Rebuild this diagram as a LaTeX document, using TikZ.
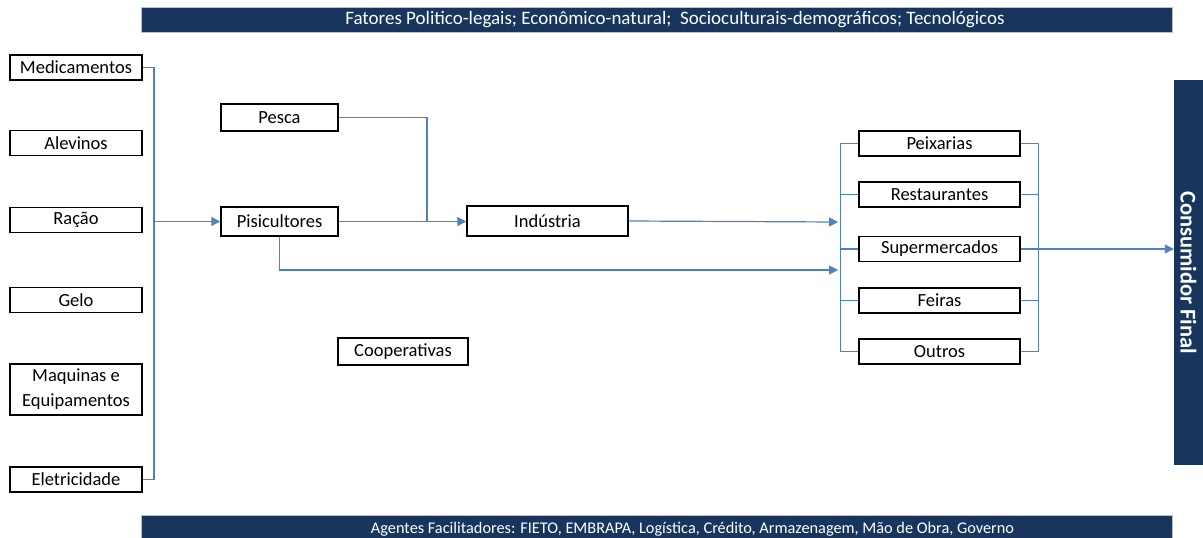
\documentclass[tikz,border=0pt]{standalone}
\usepackage{fontspec}
\setmainfont{Carlito}
\usetikzlibrary{arrows.meta}
\definecolor{navy}{RGB}{24,54,93}
\definecolor{linkblue}{RGB}{79,129,189}
\begin{document}
\begin{tikzpicture}[x=1pt,y=-1pt,font=\fontsize{18.5}{25}\selectfont,
    box/.style={draw,line width=1.5pt,minimum height=25pt,inner sep=0pt,align=center},
    link/.style={linkblue,line width=1.2pt},
    arr/.style={link,-{Triangle[length=9pt,width=9pt]}},
    bartext/.style={text=white,inner sep=0pt}]
    \useasboundingbox (0,0) rectangle (1203,538);
    % faixas de fundo
    \fill[navy,draw=gray!50,line width=0.6pt] (141,7) rectangle (1172,32);
    \node[bartext,font=\fontsize{19}{22}\selectfont] (fatores) at (675,20) {Fatores Politico-legais; Econômico-natural;\ \ Socioculturais-demográficos; Tecnológicos};
    \fill[navy,draw=gray!50,line width=0.6pt] (141,515) rectangle (1172,545);
    \node[bartext,font=\fontsize{16.3}{19}\selectfont] (agentes) at (692.5,529) {Agentes Facilitadores: FIETO, EMBRAPA, Logística, Crédito, Armazenagem, Mão de Obra, Governo};
    \node[fill=navy,text=white,rotate=-90,minimum width=385pt,minimum height=29pt,inner sep=0pt,
        font=\fontsize{22.5}{26}\selectfont\bfseries] (consumidor) at (1188.5,272.5) {Consumidor Final};
    % insumos
    \foreach \nome/\y/\h/\txt in {med/67.5/25/Medicamentos, alev/143/25/Alevinos, racao/220/25/Ração,
        gelo/300/25/Gelo, maq/389.5/51/{Maquinas e\\Equipamentos}, elet/479.5/25/Eletricidade}{
        \node[box,minimum width=132pt,minimum height=\h pt] (\nome) at (76,\y) {\txt};
    }
    \coordinate (chave) at (154,221.5);
    \draw[link] (med.east) -| (chave) |- (elet.east);
    % producao
    \node[box,minimum width=117pt,minimum height=27pt] (pesca) at (279.5,117.5) {Pesca};
    \node[box,minimum width=117pt,minimum height=29pt] (pisc) at (279.5,221.5) {Pisicultores};
    \node[box,minimum width=161pt,minimum height=30pt] (ind) at (547.5,221) {Indústria};
    \node[box,minimum width=130pt,minimum height=27pt] (coop) at (403,351.5) {Cooperativas};
    \draw[arr] (chave) -- (chave -| pisc.west);
    \coordinate (juncao) at (427,221.5);
    \draw[link] (pesca.east) -| (juncao);
    \draw[arr] (pisc.east) -- (pisc.east -| ind.west);
    % varejo
    \foreach \nome/\y/\txt in {peix/143.5/Peixarias, rest/194.5/Restaurantes, super/249/Supermercados,
        feir/300.5/Feiras, outr/351.5/Outros}{
        \node[box,minimum width=161pt] (\nome) at (939.5,\y) {\txt};
    }
    \coordinate (va) at (838,222);
    \coordinate (vb) at (838,270);
    \draw[arr] (ind.east) -- (va);
    \draw[arr] (pisc.south) |- (vb);
    \draw[link] (peix.west) -- ++(-18,0) |- (outr.west);
    \draw[link] (peix.east) -- ++(18,0) |- (outr.east);
    \foreach \n in {rest,super,feir}{
        \draw[link] (\n.west) -- ++(-18,0);
    }
    \foreach \n in {rest,feir}{
        \draw[link] (\n.east) -- ++(18,0);
    }
    \draw[arr] (super.east) -- (super.east -| consumidor.south);
\end{tikzpicture}
\end{document}
